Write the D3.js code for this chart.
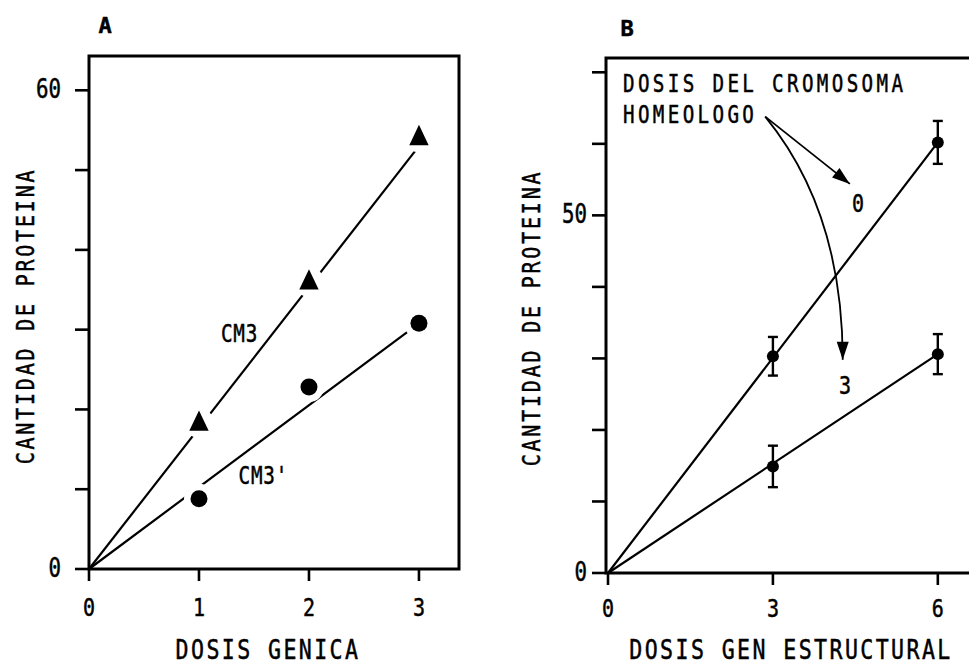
<!DOCTYPE html>
<html>
<head>
<meta charset="utf-8">
<script src="https://cdn.jsdelivr.net/npm/d3@7/dist/d3.min.js"></script>
<style>
  body { margin: 0; background: #fff; }
  svg text { font-family: "DejaVu Sans Mono", monospace; fill: #000; stroke: #000; stroke-width: 0.5; }
</style>
</head>
<body>
<div class="chart"></div>
<script>
// ---- panel A data (dosis genica vs cantidad de proteina)
var dosisA = [1, 2, 3];
var cm3 = [18.3, 36, 54.1];          // triangles
var cm3p = [8.8, 22.8, 30.8];        // circles (CM3')
var fitCM3 = [[0, 0], [3, 53]];
var fitCM3p = [[0, 0], [3, 30.8]];
var ticksAx = [0, 1, 2, 3];
var ticksAy = [0, 10, 20, 30, 40, 50, 60];
var labelsAy = [0, 60];

// ---- panel B data (dosis gen estructural)
var dosisB = [3, 6];
var homeo0 = [30.3, 60.2];
var homeo0Err = [2.7, 3];
var homeo3 = [14.9, 30.6];
var homeo3Err = [2.9, 2.8];
var fitH0 = [[0, 0], [6, 60.2]];
var fitH3 = [[0, 0], [6, 30.6]];
var ticksBx = [0, 3, 6];
var ticksBy = [0, 10, 20, 30, 40, 50, 60, 70];
var labelsBy = [0, 50];

var W = 969, H = 665;
var svg = d3.select(".chart").append("svg").attr("width", W).attr("height", H);

// condensed typewriter-like text: squeeze the mono font horizontally
function txt(g, x, y, s, size, anchor, spacing, rot) {
	var t = g.append("text")
		.attr("transform", "translate(" + x + "," + y + ")" + (rot ? " rotate(" + rot + ")" : "") + " scale(0.8,1)")
		.attr("font-size", size)
		.attr("text-anchor", anchor || "start")
		.text(s);
	if (spacing) t.attr("letter-spacing", spacing);
	return t;
}

function yAxisTicks(g, y, x0, ticks, labels, len, gap) {
	g.selectAll("line.yt").data(ticks).enter().append("line")
		.attr("x1", x0 - len).attr("x2", x0)
		.attr("y1", function(d) { return y(d); }).attr("y2", function(d) { return y(d); })
		.attr("stroke", "#000").attr("stroke-width", 2.6);
	labels.forEach(function(d) {
		txt(g, x0 - len - gap, y(d) + 8, d, 26, "end", 0);
	});
}
function xAxisTicks(g, x, y0, ticks, len, labY) {
	g.selectAll("line.xt").data(ticks).enter().append("line")
		.attr("x1", function(d) { return x(d); }).attr("x2", function(d) { return x(d); })
		.attr("y1", y0).attr("y2", y0 + len)
		.attr("stroke", "#000").attr("stroke-width", 2.6);
	ticks.forEach(function(d) {
		txt(g, x(d), labY, d, 25, "middle");
	});
}

// =================== PANEL A ===================
var xA = d3.scaleLinear().domain([0, 3.364]).range([89, 459]);
var yA = d3.scaleLinear().domain([0, 64.3]).range([569, 56]);
var gA = svg.append("g");

gA.append("text").attr("x", 105).attr("y", 33).attr("text-anchor", "middle")
	.attr("font-size", 22).attr("font-weight", "bold").text("A");

var line = d3.line();
gA.append("path").attr("d", line(fitCM3.map(function(p) { return [xA(p[0]), yA(p[1])]; })))
	.attr("stroke", "#000").attr("stroke-width", 2.2).attr("fill", "none");
gA.append("path").attr("d", line(fitCM3p.map(function(p) { return [xA(p[0]), yA(p[1])]; })))
	.attr("stroke", "#000").attr("stroke-width", 2.2).attr("fill", "none");

// white knockouts so the lines break around the symbols, as in the drawing
var knock = dosisA.map(function(d, i) { return [d, cm3[i]]; })
	.concat(dosisA.map(function(d, i) { return [d, cm3p[i]]; }));
gA.selectAll("circle.knock").data(knock).enter().append("circle")
	.attr("cx", function(d) { return xA(d[0]); }).attr("cy", function(d) { return yA(d[1]); })
	.attr("r", 15).attr("fill", "#fff");

var tri = d3.symbol().type(d3.symbolTriangle).size(180);
gA.selectAll("path.tri").data(cm3).enter().append("path")
	.attr("d", tri)
	.attr("transform", function(d, i) { return "translate(" + xA(dosisA[i]) + "," + (yA(d) + 1) + ") scale(0.95,1.15)"; })
	.attr("fill", "#000");
gA.selectAll("circle.dot").data(cm3p).enter().append("circle")
	.attr("cx", function(d, i) { return xA(dosisA[i]); }).attr("cy", function(d) { return yA(d); })
	.attr("r", 8.5).attr("fill", "#000");

txt(gA, xA(1.2), yA(28.4), "CM3", 24, "start", 1);
txt(gA, xA(1.36), yA(10.6), "CM3'", 24, "start", 1);

// frame
gA.append("rect").attr("x", xA(0)).attr("y", yA(64.3)).attr("width", xA(3.364) - xA(0)).attr("height", yA(0) - yA(64.3))
	.attr("fill", "none").attr("stroke", "#000").attr("stroke-width", 3);
yAxisTicks(gA, yA, xA(0), ticksAy, labelsAy, 14, 14);
xAxisTicks(gA, xA, yA(0), ticksAx, 12, 616);

txt(gA, 268, 659, "DOSIS GENICA", 27, "middle", 3);
txt(gA, 34, 316, "CANTIDAD DE PROTEINA", 25, "middle", 3.5, -90);

// =================== PANEL B ===================
var xB = d3.scaleLinear().domain([0, 6.64]).range([608, 973]);
var yB = d3.scaleLinear().domain([0, 72]).range([573, 58]);
var gB = svg.append("g");

gB.append("text").attr("x", 627).attr("y", 36).attr("text-anchor", "middle")
	.attr("font-size", 22).attr("font-weight", "bold").text("B");

gB.append("path").attr("d", line(fitH0.map(function(p) { return [xB(p[0]), yB(p[1])]; })))
	.attr("stroke", "#000").attr("stroke-width", 2.2).attr("fill", "none");
gB.append("path").attr("d", line(fitH3.map(function(p) { return [xB(p[0]), yB(p[1])]; })))
	.attr("stroke", "#000").attr("stroke-width", 2.2).attr("fill", "none");

var seriesB = [{v: homeo0, e: homeo0Err}, {v: homeo3, e: homeo3Err}];
seriesB.forEach(function(s) {
	var pts = dosisB.map(function(d, i) { return {x: d, y: s.v[i], e: s.e[i]}; });
	var g = gB.append("g");
	g.selectAll("line.err").data(pts).enter().append("line")
		.attr("x1", function(d) { return xB(d.x); }).attr("x2", function(d) { return xB(d.x); })
		.attr("y1", function(d) { return yB(d.y + d.e); }).attr("y2", function(d) { return yB(d.y - d.e); })
		.attr("stroke", "#000").attr("stroke-width", 2.4);
	[1, -1].forEach(function(sign) {
		g.selectAll("line.cap" + sign).data(pts).enter().append("line")
			.attr("x1", function(d) { return xB(d.x) - 5; }).attr("x2", function(d) { return xB(d.x) + 5; })
			.attr("y1", function(d) { return yB(d.y + sign * d.e); }).attr("y2", function(d) { return yB(d.y + sign * d.e); })
			.attr("stroke", "#000").attr("stroke-width", 2.4);
	});
	g.selectAll("circle").data(pts).enter().append("circle")
		.attr("cx", function(d) { return xB(d.x); }).attr("cy", function(d) { return yB(d.y); })
		.attr("r", 6).attr("fill", "#000");
});

// frame (right side lies outside the picture)
gB.append("path").attr("d", "M" + xB(6.64) + "," + yB(72) + "H" + (xB(0) - 2) + "V" + yB(0) + "H" + xB(6.64))
	.attr("fill", "none").attr("stroke", "#000").attr("stroke-width", 3);
yAxisTicks(gB, yB, xB(0) - 2, ticksBy, labelsBy, 14, 5);
xAxisTicks(gB, xB, yB(0), ticksBx, 12, 617);

// annotation
var ann = gB.append("g");
txt(ann, 623, 92, "DOSIS DEL CROMOSOMA", 24, "start", 4.2);
txt(ann, 623, 123, "HOMEOLOGO", 24, "start", 4.2);
var startPt = [xB(2.86), yB(63.8)];
var tip0 = [xB(4.4), yB(54.4)];
var tip3 = [xB(4.27), yB(29.8)];
ann.append("path")
	.attr("d", "M" + startPt + "L" + tip0)
	.attr("stroke", "#000").attr("stroke-width", 1.8).attr("fill", "none");
ann.append("path")
	.attr("d", "M" + startPt + "C" + [startPt[0] + 45, startPt[1] + 55] + " " + [tip3[0], tip3[1] - 110] + " " + tip3)
	.attr("stroke", "#000").attr("stroke-width", 1.8).attr("fill", "none");
function arrowHead(tip, angle) {
	var l = 18, w = 6;
	var p = [[0, 0], [-l, -w], [-l, w]].map(function(q) {
		var c = Math.cos(angle), s = Math.sin(angle);
		return [tip[0] + q[0] * c - q[1] * s, tip[1] + q[0] * s + q[1] * c];
	});
	ann.append("path").attr("d", "M" + p.join("L") + "Z").attr("fill", "#000");
}
arrowHead(tip0, Math.atan2(tip0[1] - startPt[1], tip0[0] - startPt[0]));
arrowHead(tip3, Math.PI / 2);
txt(ann, xB(4.55), yB(50.5), "0", 25, "middle");
txt(ann, xB(4.31), yB(25), "3", 25, "middle");

txt(gB, 791, 659, "DOSIS GEN ESTRUCTURAL", 27, "middle", 3);
txt(gB, 540, 318, "CANTIDAD DE PROTEINA", 25, "middle", 3.5, -90);
</script>
</body>
</html>
